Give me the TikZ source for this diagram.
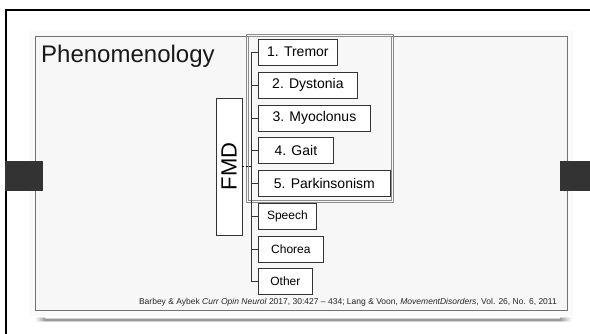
\documentclass[tikz,border=0pt]{standalone}
\usepackage{fontspec}
\setmainfont{Liberation Sans}
\begin{document}
\begin{tikzpicture}[x=1pt,y=-1pt,
  item/.style={draw=black!80, line width=0.8pt, fill=white, rectangle,
    minimum height=26pt, inner sep=0pt, anchor=west,
    font=\fontsize{14}{16}\selectfont},
  minor/.style={item, font=\fontsize{12}{14}\selectfont},
  link/.style={draw=black!80, line width=0.8pt},
  slab/.style={fill=black!80, draw=none}]
  \useasboundingbox (0,0) rectangle (590,334);
  \fill[white] (0,0) rectangle (590,334);

  % outer frame (top and left edges)
  \draw[line width=2pt, black] (6,334) -- (6,10) -- (590,10);

  % slide with its faint halo and drop shadow
  \fill[black!2] (29,31) rectangle (573,316);
  \fill[black!18] (45,318) rectangle (560,322);
  \shade[left color=white, right color=black!18] (33,318) rectangle (45,322);
  \shade[left color=black!18, right color=white] (560,318) rectangle (573,322);
  \fill[black!40] (45,319) rectangle (560,321);
  \shade[left color=white, right color=black!40] (35,319) rectangle (45,321);
  \shade[left color=black!40, right color=white] (560,319) rectangle (571,321);
  \filldraw[fill=black!3, draw=black!55, line width=1pt] (35,37) rectangle (567,311);

  % side tabs
  \fill[slab] (5,161) rectangle (43,191);
  \fill[slab] (560,161) rectangle (590,191);

  % title
  \node[anchor=base west, inner sep=0pt, text=black!90,
        font=\fontsize{24}{28}\selectfont] (title) at (41,63) {Phenomenology};

  % double-lined frame around the numbered items
  \draw[black!45, line width=0.6pt] (246,34) rectangle (393,202);
  \draw[black!45, line width=0.6pt] (248,36) rectangle (391,200);

  % root box
  \node[draw=black!80, line width=0.8pt, fill=white, rotate=90,
        minimum width=137pt, minimum height=26pt, inner sep=0pt,
        font=\fontsize{22}{24}\selectfont] (fmd) at (229,166.5) {FMD};

  % branches
  \node[item, minimum width=79pt]  (t1) at (258,52)  {1. Tremor};
  \node[item, minimum width=99pt]  (t2) at (258,85)  {2. Dystonia};
  \node[item, minimum width=112pt] (t3) at (258,118) {3. Myoclonus};
  \node[item, minimum width=75pt]  (t4) at (258,150) {4. Gait};
  \node[item, minimum width=132pt] (t5) at (258,183) {5. Parkinsonism};
  \node[minor, minimum width=58pt] (t6) at (258,216) {Speech};
  \node[minor, minimum width=65pt] (t7) at (258,249) {Chorea};
  \node[minor, minimum width=54pt] (t8) at (258,281) {Other};

  % connector bus
  \coordinate (bus) at (251,52);
  \draw[link] (bus |- t1.west) -- (bus |- t8.west);
  \foreach \n in {t1,t2,t3,t4,t5,t6,t7,t8}
    \draw[link] (bus |- \n.west) -- (\n.west);
  \draw[black, line width=0.8pt, dash pattern=on 2pt off 1.5pt]
    (fmd.south) -- (fmd.south -| bus);

  % reference line
  \node[anchor=base east, inner sep=0pt, text=black!85,
        font=\fontsize{8.5}{10}\selectfont] (cite) at (557,305)
    {Barbey \& Aybek \textit{Curr Opin Neurol} 2017, 30:427 -- 434; Lang \& Voon, \textit{MovementDisorders}, Vol. 26, No. 6, 2011};
\end{tikzpicture}
\end{document}
